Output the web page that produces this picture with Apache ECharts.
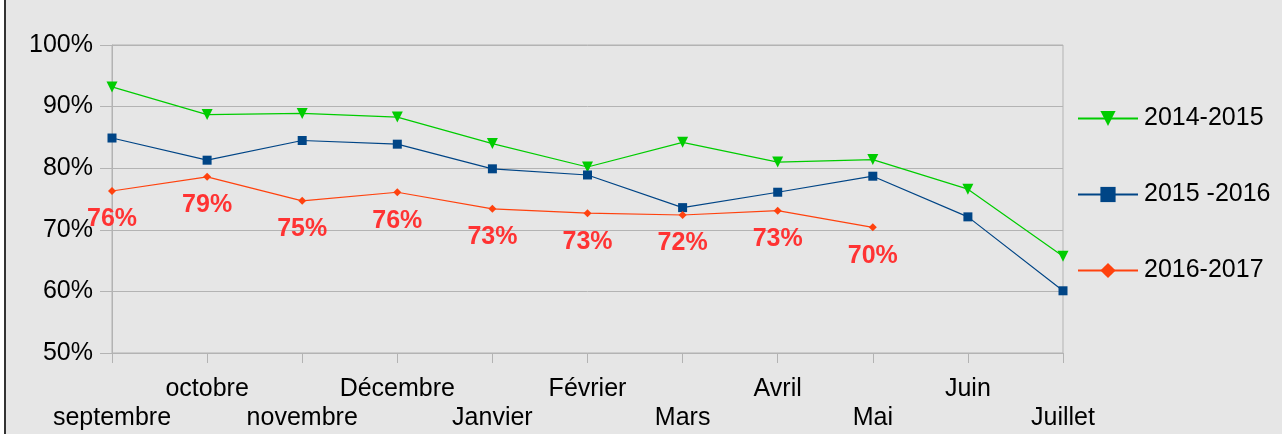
<!DOCTYPE html>
<html>
<head>
<meta charset="utf-8">
<script src="https://cdn.jsdelivr.net/npm/echarts@6.0.0/dist/echarts.min.js"></script>
<style>
 html, body { margin:0; padding:0; background:#fff; }
 #main { position:absolute; left:4px; top:0; width:1278px; height:434px; border-left:2px solid #333; box-sizing:border-box; background:#e6e6e6; }
</style>
</head>
<body>
<div id="main"></div>
<script>
 var myChart;

 // mois (axe des x)
 var months = ['septembre', 'octobre', 'novembre', 'Décembre', 'Janvier', 'Février', 'Mars', 'Avril', 'Mai', 'Juin', 'Juillet'];
 // taux en %
 var s1415 = [93.2, 88.7, 88.9, 88.3, 84.0, 80.2, 84.2, 81.0, 81.4, 76.6, 65.7];
 var s1516 = [84.9, 81.3, 84.5, 83.9, 79.9, 78.9, 73.6, 76.1, 78.7, 72.1, 60.1];
 var s1617 = [76.3, 78.6, 74.7, 76.1, 73.4, 72.7, 72.4, 73.1, 70.4, null, null];
 var seriesNames = ['2014-2015', '2015 -2016', '2016-2017'];
 var yTicks = [50, 60, 70, 80, 90, 100];

 function showEcharts(){
   myChart = echarts.init(document.getElementById('main'));
   var font = 'Liberation Sans';
   myChart.setOption({
     animation: false,
     grid: {
       left: 106, right: 219, top: 45, bottom: 81,
       show: true, borderColor: '#b3b3b3', borderWidth: 1
     },
     legend: {
       orient: 'vertical',
       left: 1066, top: 101,
       itemWidth: 60, itemHeight: 19, itemGap: 51,
       data: seriesNames,
       textStyle: { fontFamily: font, fontSize: 25, color: '#000', padding: [0, 0, 0, 1] }
     },
     xAxis: {
       type: 'category',
       data: months,
       boundaryGap: false,
       axisLine: { lineStyle: { color: '#b3b3b3' } },
       axisTick: { show: true, length: 10, interval: 0, lineStyle: { color: '#b3b3b3' } },
       axisLabel: {
         interval: 0, margin: 22, color: '#000',
         fontFamily: font, fontSize: 25, lineHeight: 29,
         formatter: function (v, i) { return i % 2 === 0 ? '\n' + v : v; }
       },
       splitLine: { show: false }
     },
     yAxis: {
       type: 'value',
       min: yTicks[0], max: yTicks[yTicks.length - 1], interval: 10,
       axisLine: { show: true, lineStyle: { color: '#b3b3b3' } },
       axisTick: { show: true, length: 12, lineStyle: { color: '#b3b3b3' } },
       axisLabel: { margin: 19, color: '#000', fontFamily: font, fontSize: 25, formatter: '{value}%' },
       splitLine: { lineStyle: { color: '#b3b3b3', width: 1 } }
     },
     series: [
       {
         name: seriesNames[0], type: 'line', data: s1415,
         symbol: 'triangle', symbolRotate: 180, symbolSize: 11,
         itemStyle: { color: '#00cc00' },
         lineStyle: { color: '#00cc00', width: 1.2 }
       },
       {
         name: seriesNames[1], type: 'line', data: s1516,
         symbol: 'rect', symbolSize: 9,
         itemStyle: { color: '#004586' },
         lineStyle: { color: '#004586', width: 1.2 }
       },
       {
         name: seriesNames[2], type: 'line', data: s1617,
         symbol: 'diamond', symbolSize: 8,
         itemStyle: { color: '#ff420e' },
         lineStyle: { color: '#ff420e', width: 1.2 },
         label: {
           show: true, position: 'bottom', distance: 12,
           color: '#ff3333', fontFamily: font, fontSize: 25, fontWeight: 'bold',
           formatter: function (p) { return Math.round(p.value) + '%'; }
         }
       }
     ]
   });
 }

 showEcharts();
</script>
</body>
</html>
